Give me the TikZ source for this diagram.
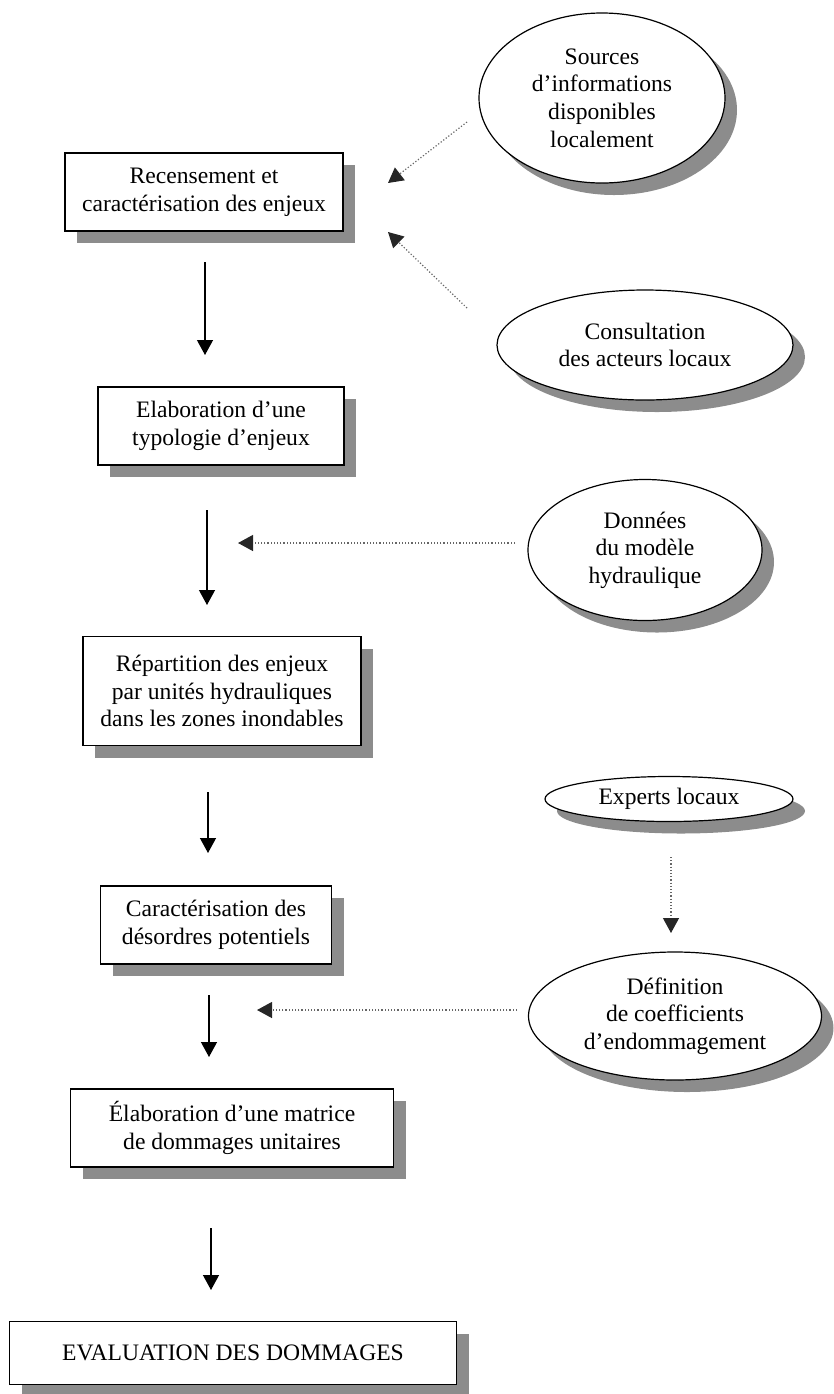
\documentclass[tikz,border=0pt]{standalone}
\usepackage{fontspec}
\setmainfont{Liberation Serif}
\usetikzlibrary{arrows.meta,shapes.geometric,shadows}

\begin{document}
\begin{tikzpicture}[x=0.5pt, y=-0.5pt,
	ombre/.style={fill=white, draw, line width=0.6pt, font=\fontsize{11.8}{13.8}\selectfont, align=center, inner sep=0pt,
		drop shadow={shadow xshift=6pt, shadow yshift=-6pt, fill=black!45, opacity=1}},
	box/.style={ombre, rectangle},
	bulle/.style={ombre, ellipse},
	flow/.style={line width=0.6pt, -{Triangle[width=8pt,length=7.5pt]}},
	info/.style={black!60, densely dotted, line width=0.6pt, -{Triangle[width=8pt,length=7.5pt,color=black!85]}}]
	
	\useasboundingbox (0,0) rectangle (834,1394);
	
	\node[box, minimum width=139pt, minimum height=39pt] (1) at (204,192) {Recensement et\\caractérisation des enjeux};
	\node[box, minimum width=123pt, minimum height=39pt] (2) at (221,426) {Elaboration d’une\\typologie d’enjeux};
	\node[box, minimum width=139pt, minimum height=54.5pt] (3) at (222,691) {Répartition des enjeux\\par unités hydrauliques\\dans les zones inondables};
	\node[box, minimum width=115.5pt, minimum height=39pt] (4) at (216,925) {Caractérisation des\\désordres potentiels};
	\node[box, minimum width=161.5pt, minimum height=39pt] (5) at (232,1128) {Élaboration d’une matrice\\de dommages unitaires};
	\node[box, minimum width=223.5pt, minimum height=31.5pt] (6) at (233,1353) {EVALUATION DES DOMMAGES};
	
	\node[bulle, minimum width=123pt, minimum height=85pt] (7) at (602,98) {Sources\\d’informations\\disponibles\\localement};
	\node[bulle, minimum width=148pt, minimum height=55pt] (8) at (645,345) {Consultation\\des acteurs locaux};
	\node[bulle, minimum width=117pt, minimum height=70.5pt] (9) at (645,550) {Données\\du modèle\\hydraulique};
	\node[bulle, minimum width=124pt, minimum height=22.5pt] (10) at (669,799) {Experts locaux};
	\node[bulle, minimum width=146.5pt, minimum height=64pt] (11) at (675,1016) {Définition\\de coefficients\\d’endommagement};
	
	\coordinate (a1) at (205,262);
	\coordinate (b1) at (205,355);
	\coordinate (a2) at (207,510);
	\coordinate (b2) at (207,605);
	\coordinate (a3) at (208,792);
	\coordinate (b3) at (208,853);
	\coordinate (a4) at (209,995);
	\coordinate (b4) at (209,1057);
	\coordinate (a5) at (211,1228);
	\coordinate (b5) at (211,1290);
	
	\coordinate (c1) at (467,122);
	\coordinate (d1) at (388,183);
	\coordinate (c2) at (467,308);
	\coordinate (d2) at (388,232);
	\coordinate (c3) at (515,543);
	\coordinate (d3) at (238,543);
	\coordinate (c4) at (671,857);
	\coordinate (d4) at (671,933);
	\coordinate (c5) at (517,1010);
	\coordinate (d5) at (257,1010);
	
	\path[flow] (a1) edge (b1);
	\path[flow] (a2) edge (b2);
	\path[flow] (a3) edge (b3);
	\path[flow] (a4) edge (b4);
	\path[flow] (a5) edge (b5);
	
	\path[info] (c1) edge (d1);
	\path[info] (c2) edge (d2);
	\path[info] (c3) edge (d3);
	\path[info] (c4) edge (d4);
	\path[info] (c5) edge (d5);
	
\end{tikzpicture}
\end{document}
